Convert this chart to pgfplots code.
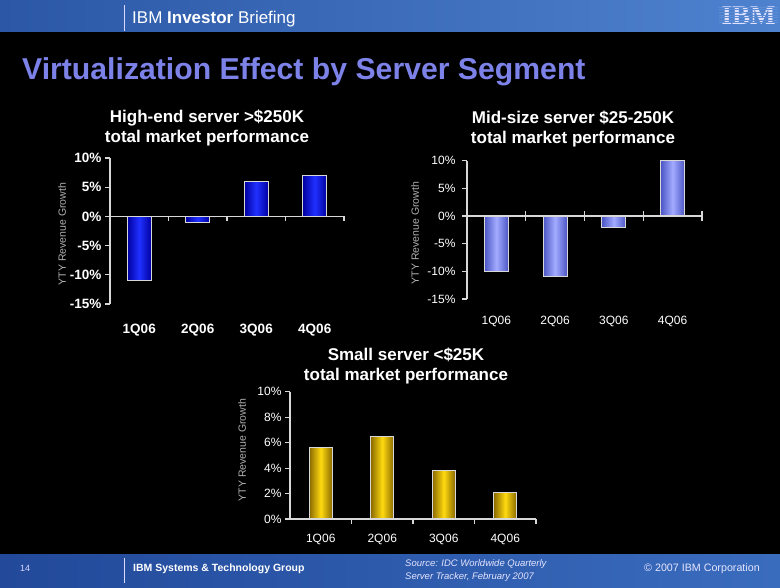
\documentclass[border=0pt]{standalone}
\usepackage{pgfplots}
\pgfplotsset{compat=1.18}
\usepackage{fontspec}
\setmainfont{Liberation Sans}
\newfontfamily\logofont{Liberation Serif}
\definecolor{hdrL}{HTML}{2B57A6}
\definecolor{hdrR}{HTML}{4E82CF}
\definecolor{ftrL}{HTML}{22499A}
\definecolor{ftrR}{HTML}{3A6CBE}
\definecolor{titleblue}{HTML}{7C82E8}
\definecolor{axgray}{HTML}{D8D8D8}
\definecolor{labgray}{HTML}{B0B0B0}
\definecolor{b1dark}{HTML}{0000A0}
\definecolor{b1light}{HTML}{2030FF}
\definecolor{b2dark}{HTML}{4B55C4}
\definecolor{b2light}{HTML}{A3ACFF}
\definecolor{b3dark}{HTML}{8A6A00}
\definecolor{b3light}{HTML}{FFDA10}
\pgfplotsset{
  segbar/.style={
    scale only axis,
    xmin=-0.5, xmax=3.5,
    xtick={0,1,2,3},
    xticklabels={1Q06,2Q06,3Q06,4Q06},
    axis x line*=bottom,
    x axis line style={draw=none},
    axis y line*=left,
    y axis line style={axgray, line width=1.1pt},
    xtick style={draw=none},
    ytick style={axgray, line width=1.1pt},
    major tick length=5pt,
    tick align=outside,
    ticklabel style={text=white},
    ybar, bar width=24pt,
    clip=false,
  },
  bar1/.style={draw=axgray, line width=1pt, bar shift=0pt, left color=b1dark, right color=b1dark, middle color=b1light},
  bar2/.style={draw=axgray, line width=1pt, bar shift=0pt, left color=b2dark, right color=b2dark, middle color=b2light},
  bar3/.style={draw=axgray, line width=1pt, bar shift=0pt, left color=b3dark, right color=b3dark, middle color=b3light},
}
\begin{document}
\begin{tikzpicture}[x=1pt,y=1pt]
% background
\fill[black] (0,0) rectangle (780,588);
\shade[left color=hdrL, right color=hdrR] (0,556) rectangle (780,588);
\shade[left color=ftrL, right color=ftrR] (0,0) rectangle (780,33);
% header
\draw[white!85!blue, line width=0.8pt] (124,557) -- (124,583);
\node[anchor=base west, text=white, font=\fontsize{17}{20}\selectfont, inner sep=0pt] at (132,564) {IBM \textbf{Investor} Briefing};
\node[anchor=center, text=white!88!blue, font=\logofont\bfseries\fontsize{27}{30}\selectfont, inner sep=0pt] at (748.5,572.5) {IBM};
\foreach \yy in {565.1,567.7,570.3,572.9,575.5,578.1,580.7}
  \draw[hdrR!92!white, line width=0.9pt] (719,\yy) -- (778,\yy);
% footer
\draw[white!85!blue, line width=0.8pt] (124,5) -- (124,30);
\node[anchor=base west, text=white!85!blue, font=\fontsize{9}{11}\selectfont, inner sep=0pt] at (20,16) {14};
\node[anchor=base west, text=white, font=\bfseries\fontsize{10.5}{12}\selectfont, inner sep=0pt] at (133,16) {IBM Systems \& Technology Group};
\node[anchor=base west, text=white!90!blue, font=\itshape\fontsize{9.5}{11}\selectfont, inner sep=0pt] at (405,21) {Source: IDC Worldwide Quarterly};
\node[anchor=base west, text=white!90!blue, font=\itshape\fontsize{9.5}{11}\selectfont, inner sep=0pt] at (405,8.5) {Server Tracker, February 2007};
\node[anchor=base west, text=white!90!blue, font=\fontsize{10.7}{12}\selectfont, inner sep=0pt] at (644,16) {\textcopyright{} 2007 IBM Corporation};
% main title
\node[anchor=base west, text=titleblue, font=\bfseries\fontsize{30.2}{34}\selectfont, inner sep=0pt] at (22,508.5) {Virtualization Effect by Server Segment};
% chart titles
\begin{scope}[font=\bfseries\fontsize{17}{20}\selectfont, text=white, inner sep=0pt]
\node[anchor=base] at (207,465.7) {High-end server >\$250K};
\node[anchor=base] at (207,445.7) {total market performance};
\node[anchor=base] at (573,464.7) {Mid-size server \$25-250K};
\node[anchor=base] at (573,444.7) {total market performance};
\node[anchor=base] at (406,227.3) {Small server <\$25K};
\node[anchor=base] at (406,207.3) {total market performance};
\end{scope}
% y labels
\begin{scope}[font=\fontsize{10.5}{12}\selectfont, text=labgray]
\node[rotate=90] at (62,354) {YTY Revenue Growth};
\node[rotate=90] at (415,355) {YTY Revenue Growth};
\node[rotate=90] at (242,138) {YTY Revenue Growth};
\end{scope}
% Chart 1: High-end
\begin{axis}[segbar,
  at={(110pt,284pt)}, anchor=south west,
  width=234pt, height=146pt,
  ymin=-15, ymax=10,
  ytick={-15,-10,-5,0,5,10},
  yticklabels={-15\%,-10\%,-5\%,0\%,5\%,10\%},
  ticklabel style={font=\bfseries\fontsize{13.5}{15}\selectfont},
  xticklabel style={yshift=-12pt},
]
\addplot[bar1] coordinates {(0,-11)};
\addplot[bar1] coordinates {(1,-1)};
\addplot[bar1] coordinates {(2,6)};
\addplot[bar1] coordinates {(3,7)};
\draw[axgray, line width=1.1pt] (axis cs:-0.5,0) -- (axis cs:3.5,0);
\pgfplotsinvokeforeach{0.5,1.5,2.5,3.5}{\draw[axgray, line width=1.1pt] (axis cs:#1,0) -- ([yshift=-5pt]axis cs:#1,0);}
\end{axis}
% Chart 2: Mid-size
\begin{axis}[segbar,
  at={(467pt,289pt)}, anchor=south west,
  width=235pt, height=138.3pt,
  ymin=-15, ymax=10,
  ytick={-15,-10,-5,0,5,10},
  yticklabels={-15\%,-10\%,-5\%,0\%,5\%,10\%},
  ticklabel style={font=\fontsize{12}{14}\selectfont},
  yticklabel style={xshift=-3pt},
  xticklabel style={yshift=-9pt},
]
\addplot[bar2] coordinates {(0,-10)};
\addplot[bar2] coordinates {(1,-10.9)};
\addplot[bar2] coordinates {(2,-2)};
\addplot[bar2] coordinates {(3,10)};
\draw[axgray, line width=1.1pt] (axis cs:-0.5,0) -- (axis cs:3.5,0);
\pgfplotsinvokeforeach{0.5,1.5,2.5,3.5}{\draw[axgray, line width=1.1pt] ([yshift=5pt]axis cs:#1,0) -- ([yshift=-5pt]axis cs:#1,0);}
\end{axis}
% Chart 3: Small
\begin{axis}[segbar,
  at={(290pt,69pt)}, anchor=south west,
  width=246pt, height=127.3pt,
  ymin=0, ymax=10,
  ytick={0,2,4,6,8,10},
  yticklabels={0\%,2\%,4\%,6\%,8\%,10\%},
  bar width=23pt,
  ticklabel style={font=\fontsize{12}{14}\selectfont},
  xticklabel style={yshift=-7pt},
]
\addplot[bar3] coordinates {(0,5.6)};
\addplot[bar3] coordinates {(1,6.5)};
\addplot[bar3] coordinates {(2,3.8)};
\addplot[bar3] coordinates {(3,2.1)};
\draw[axgray, line width=1.1pt] (axis cs:-0.5,0) -- (axis cs:3.5,0);
\pgfplotsinvokeforeach{0.5,1.5,2.5,3.5}{\draw[axgray, line width=1.1pt] (axis cs:#1,0) -- ([yshift=-5pt]axis cs:#1,0);}
\end{axis}
\end{tikzpicture}
\end{document}
